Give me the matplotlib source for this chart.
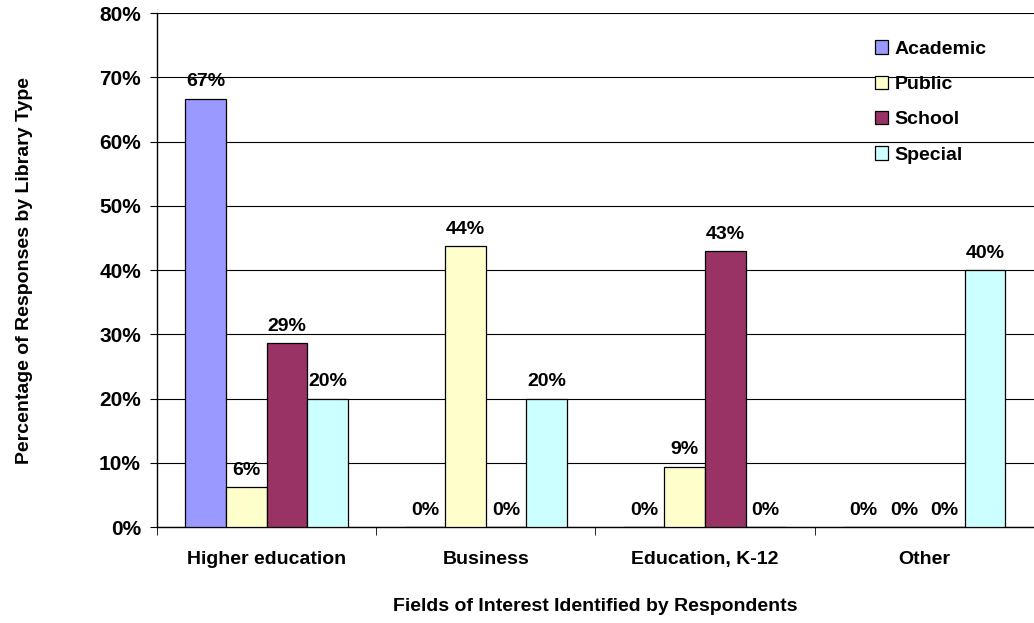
import matplotlib.pyplot as plt
import numpy as np

plt.rcParams['font.family'] = ['Liberation Sans', 'DejaVu Sans']
plt.rcParams['font.weight'] = 'bold'

categories = ["Higher education", "Business", "Education, K-12", "Other"]
series = ["Academic", "Public", "School", "Special"]
academic = [66.7, 0, 0, 0]
public = [6.25, 43.75, 9.4, 0]
school = [28.6, 0, 42.9, 0]
special = [20, 20, 0, 40]
colors = ["#9999FF", "#FFFFCC", "#993366", "#CCFFFF"]

values = [academic, public, school, special]

fig = plt.figure(figsize=(10.34, 6.23), dpi=100)
ax = fig.add_axes([0.1518, 0.154, 0.848, 0.825])

x = np.arange(len(categories))
w = 0.185
for i, (name, vals) in enumerate(zip(series, values)):
    pos = x + (i - 1.5) * w
    ax.bar(pos, vals, width=w, color=colors[i], edgecolor="black",
           linewidth=0.9, label=name, zorder=3)
    for xp, v in zip(pos, vals):
        ax.annotate(f"{round(v):.0f}%", (xp, v), xytext=(0, 6),
                    textcoords="offset points", ha="center", va="bottom",
                    fontsize=14, fontweight="bold")

ax.set_xlim(-0.5, 3.5)
ax.set_ylim(0, 80)
ax.set_yticks(np.arange(0, 81, 10))
ax.set_yticklabels([f"{t}%" for t in range(0, 81, 10)], fontsize=15)
ax.yaxis.grid(True, color="black", linewidth=0.8, zorder=0)
ax.set_xticks(x)
ax.set_xticklabels(categories, fontsize=14)
ax.tick_params(axis="x", length=0, pad=17)
ax.set_xticks(np.arange(-0.5, 4.0, 1.0), minor=True)
ax.tick_params(axis="x", which="minor", length=6, direction="out")
ax.tick_params(axis="y", length=5, direction="out", pad=6.5)
for s in ["top", "right"]:
    ax.spines[s].set_visible(False)
ax.spines["left"].set_linewidth(1.0)
ax.spines["bottom"].set_linewidth(1.0)

ax.set_xlabel("Fields of Interest Identified by Respondents", fontsize=14,
              fontweight="bold", labelpad=22)
ax.set_ylabel("Percentage of Responses by Library Type", fontsize=14,
              fontweight="bold", labelpad=47.5)

leg = ax.legend(loc="upper left", bbox_to_anchor=(0.8187, 0.947), frameon=False,
                fontsize=14, handlelength=0.67, handleheight=0.67,
                handletextpad=0.36, labelspacing=0.92, borderpad=0,
                borderaxespad=0)

fig.savefig("out.png", dpi=100)
